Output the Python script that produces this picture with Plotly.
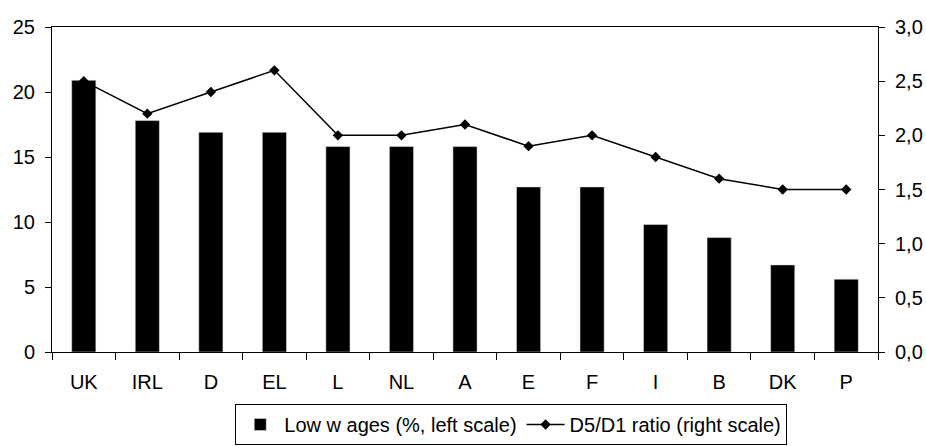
import plotly.graph_objects as go

laender = ["UK", "IRL", "D", "EL", "L", "NL", "A", "E", "F", "I", "B", "DK", "P"]
niedriglohn = [20.9, 17.8, 16.9, 16.9, 15.8, 15.8, 15.8, 12.7, 12.7, 9.8, 8.8, 6.7, 5.6]
d5_d1 = [2.5, 2.2, 2.4, 2.6, 2.0, 2.0, 2.1, 1.9, 2.0, 1.8, 1.6, 1.5, 1.5]

linke_ticks = [0, 5, 10, 15, 20, 25]
rechte_ticks = [0.0, 0.5, 1.0, 1.5, 2.0, 2.5, 3.0]
rechte_labels = ["0,0", "0,5", "1,0", "1,5", "2,0", "2,5", "3,0"]

fig = go.Figure()
fig.add_trace(go.Bar(
    x=laender, y=niedriglohn, name="Low w ages (%, left scale)",
    marker_color="black", width=0.38,
))
fig.add_trace(go.Scatter(
    x=laender, y=d5_d1, name="D5/D1 ratio (right scale)", yaxis="y2",
    mode="lines+markers", line=dict(color="black", width=1.5),
    marker=dict(symbol="diamond", size=8, color="black"),
))

fig.update_layout(
    width=926, height=446,
    margin=dict(l=52, r=48, t=27, b=94, autoexpand=False),
    plot_bgcolor="white", paper_bgcolor="white",
    font=dict(family="Liberation Sans, Arial", size=20, color="black"),
    showlegend=True,
    legend=dict(
        orientation="h", x=0.556, xanchor="center", y=-0.16, yanchor="top",
        bordercolor="black", borderwidth=1, font=dict(size=20),
        traceorder="normal", itemwidth=38,
    ),
    xaxis=dict(
        range=[-0.5, 12.5],
        showline=True, linecolor="black", linewidth=1, mirror=True,
        ticks="outside", tickcolor="black", ticklen=7, tickson="boundaries",
        showgrid=False, ticklabelstandoff=12,
    ),
    yaxis=dict(
        range=[0, 25], tickvals=linke_ticks, showline=True, linecolor="black",
        linewidth=1, ticks="outside", tickcolor="black", ticklen=6,
        showgrid=False, zeroline=False, ticklabelstandoff=6,
    ),
    yaxis2=dict(
        range=[0, 3], tickvals=rechte_ticks, ticktext=rechte_labels,
        overlaying="y", side="right", showline=True, linecolor="black",
        linewidth=1, ticks="outside", tickcolor="black", ticklen=6,
        showgrid=False, zeroline=False, ticklabelstandoff=6,
    ),
)

# body-Rand weg, sonst ist alles um 8px verschoben
fig.write_html("out.html", config={"displayModeBar": False},
               post_script="document.body.style.margin='0';")
